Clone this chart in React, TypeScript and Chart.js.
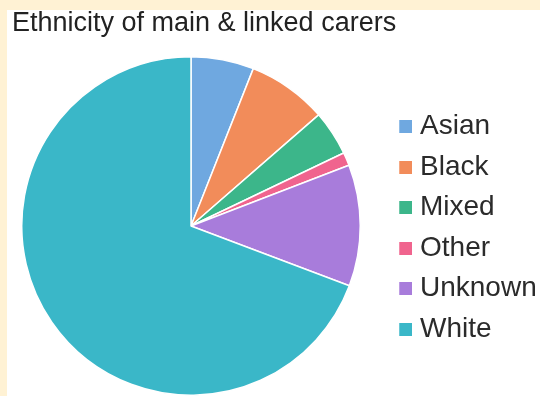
import React, { useEffect, useRef } from 'react';
import { Chart, registerables } from 'chart.js';

Chart.register(...registerables);

const categories = ['Asian', 'Black', 'Mixed', 'Other', 'Unknown', 'White'];
const shares = [6.0, 7.6, 4.3, 1.25, 11.6, 69.25];
const sliceColors = ['#6FA8E0', '#F28C5A', '#3CB68A', '#F0648E', '#A87CDB', '#3AB7C8'];
const chartTitle = 'Ethnicity of main & linked carers';

function makeSwatch(color: string): HTMLCanvasElement {
  const c = document.createElement('canvas');
  c.width = 36;
  c.height = 13;
  const g = c.getContext('2d');
  if (g) {
    g.fillStyle = color;
    g.fillRect(23, 0, 13, 13);
  }
  return c;
}

export default function App() {
  const ref = useRef<HTMLCanvasElement>(null);

  useEffect(() => {
    if (!ref.current) return;
    const swatches = sliceColors.map(makeSwatch);
    const fontFamily = '"Liberation Sans", Arial, sans-serif';
    const chart = new Chart(ref.current, {
      type: 'pie',
      data: {
        labels: categories,
        datasets: [
          {
            data: shares,
            backgroundColor: sliceColors,
            borderColor: '#ffffff',
            borderWidth: 1.5,
          },
        ],
      },
      options: {
        responsive: false,
        animation: false,
        layout: { padding: { left: 12, right: 0, top: 0, bottom: 0 } },
        plugins: {
          title: {
            display: true,
            text: chartTitle,
            align: 'start',
            color: '#222222',
            font: { family: fontFamily, size: 27, weight: 'normal', lineHeight: 1.2 },
            padding: { top: 7.8, bottom: 15.8 },
          },
          legend: {
            position: 'right',
            align: 'center',
            maxWidth: 170,
            title: {
              display: true,
              text: '',
              font: { family: fontFamily, size: 10, lineHeight: 1.2 },
              padding: { top: 23.75, bottom: 23.75 },
            },
            labels: {
              usePointStyle: true,
              pointStyleWidth: 23.5,
              padding: 12.5,
              color: '#2b2b2b',
              font: { family: fontFamily, size: 28, weight: 'normal' },
              generateLabels: () =>
                categories.map((c, i) => ({
                  text: c,
                  fillStyle: sliceColors[i],
                  strokeStyle: sliceColors[i],
                  lineWidth: 0,
                  pointStyle: swatches[i] as any,
                  hidden: false,
                  index: i,
                  fontColor: '#2b2b2b',
                })),
            },
          },
          tooltip: { enabled: false },
        },
      } as any,
    });
    return () => chart.destroy();
  }, []);

  return (
    <div
      style={{
        position: 'fixed',
        left: 0,
        top: 0,
        width: 540,
        height: 396,
        overflow: 'hidden',
        background: '#FFF2D4',
      }}
    >
      <div
        style={{
          position: 'absolute',
          left: 7,
          top: 10,
          right: 0,
          bottom: 0,
          background: '#ffffff',
        }}
      />
      <canvas
        ref={ref}
        width={540}
        height={396}
        style={{ position: 'absolute', left: 0, top: 0, width: 540, height: 396 }}
      />
    </div>
  );
}
